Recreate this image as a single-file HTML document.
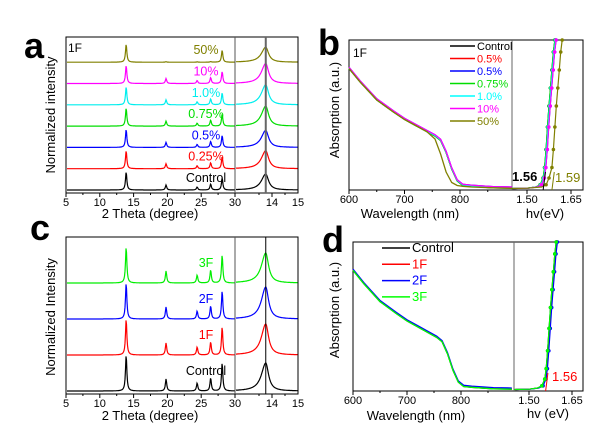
<!DOCTYPE html>
<html><head><meta charset="utf-8"><style>
html,body{margin:0;padding:0;background:#fff}
svg{display:block;font-family:"Liberation Sans",Arial,sans-serif}
</style></head><body>
<svg id="fig" width="600" height="428" viewBox="0 0 600 428" xmlns="http://www.w3.org/2000/svg"></svg>
<script>
// ---------- data ----------
const xrdPeakPos = [13.9, 19.8, 24.4, 26.4, 28.1];
const xrdPeakHeightA = [18, 5, 3, 6, 12];
const xrdPeakHeightC = [36, 12, 8, 13, 28];
const insetPeakPos = 13.76;
const aSeries = ["Control","0.25%","0.5%","0.75%","1.0%","10%","50%"];
const aColors = ["#000","#f00","#00f","#0d0","#0ee","#f0f","#808000"];
const aOffsets = [0, 1, 2, 3, 4, 5, 6];
const aInsetHeights = [16, 18, 17, 20, 20, 20, 15];
const cSeries = ["Control","1F","2F","3F"];
const cColors = ["#000","#f00","#00f","#0e0"];
const cOffsets = [0, 1, 2, 3];
const cInsetHeights = [28, 31, 32, 30];
const wl = [600,620,650,680,700,720,740,755,765,775,785,795,805,820,860,894];
const absControl = [0.81,0.72,0.60,0.52,0.47,0.43,0.39,0.36,0.33,0.25,0.14,0.06,0.03,0.025,0.015,0.012];
const abs50 = [0.81,0.72,0.60,0.52,0.47,0.43,0.39,0.34,0.24,0.12,0.05,0.03,0.025,0.02,0.015,0.012];
const hv = [1.45,1.50,1.53,1.545,1.555,1.56,1.565,1.57,1.575,1.58,1.585,1.59,1.595];
const tauc = [0.01,0.012,0.02,0.035,0.08,0.15,0.27,0.42,0.56,0.68,0.80,0.92,1.0];
const hv50 = [1.45,1.50,1.55,1.565,1.575,1.585,1.59,1.595,1.60,1.605,1.61,1.615,1.62];
const bSeries = ["Control","0.5%","0.5%","0.75%","1.0%","10%","50%"];
const bColors = ["#000","#f00","#00f","#0d0","#0ff","#f0f","#808000"];
const dSeries = ["Control","1F","2F","3F"];
const dColors = ["#000","#f00","#00f","#0f0"];

const S = document.getElementById('fig');
const NS = "http://www.w3.org/2000/svg";
function mk(tag, at, parent){const e=document.createElementNS(NS,tag);for(const k in at)e.setAttribute(k,at[k]);(parent||S).appendChild(e);return e;}
function txt(x,y,s,size,fill,anchor,extra){const t=mk('text',Object.assign({x:x,y:y,'font-size':size,fill:fill||'#000','text-anchor':anchor||'start'},extra||{}));t.textContent=s;return t;}

// ---------- XRD panels ----------
function xrdPanel(p){
  const L=66,R=298,D=235;
  const sx=v=>L+(v-5)/25*(D-L);
  const sxi=v=>272+(v-14)*26;
  const fr=mk('rect',{x:L,y:p.top,width:R-L,height:p.bot-p.top,fill:'none',stroke:'#000','stroke-width':1});
  
  const dv=mk('line',{x1:D,x2:D,y1:p.top,y2:p.bot,stroke:'#555','stroke-width':1});
  
  for(let v=5;v<=30;v+=2.5){const x=sx(v);mk('line',{x1:x,x2:x,y1:p.bot,y2:p.bot+(v%5===0?4:2),stroke:'#000'});
    if(v%5===0){const t=txt(x,p.bot+13,String(v),11,'#000','middle');}}
  [14].forEach(v=>{const x=sxi(v);mk('line',{x1:x,x2:x,y1:p.bot,y2:p.bot+4,stroke:'#000'});txt(x,p.bot+13,String(v),11,'#000','middle');});
  mk('line',{x1:sxi(13.5),x2:sxi(13.5),y1:p.bot,y2:p.bot+2,stroke:'#000'});
  mk('line',{x1:sxi(14.5),x2:sxi(14.5),y1:p.bot,y2:p.bot+2,stroke:'#000'});
  txt(298,p.bot+13,'15',11,'#000','middle');
  p.series.forEach((s,i)=>{
    const base=p.bot-3-p.offsets[i]*p.step;
    let d='';
    for(let x=L+1;x<D;x+=0.5){const v=5+(x-L)/(D-L)*25;let h=0;
      xrdPeakPos.forEach((pp,k)=>{const w=0.12;h+=p.heights[k]*(i===p.series.length-1&&p.fade&&k!==0&&k!==4?0.1:1)/(1+((v-pp)/w)**2);});
      d+=(d?'L':'M')+x.toFixed(1)+','+(base-h).toFixed(1);}
    const pa=mk('path',{d:d,fill:'none',stroke:p.colors[i],'stroke-width':1.2});
    
    let d2='';
    for(let x=D+1;x<R;x+=0.5){const v=14+(x-272)/26;const w=v<insetPeakPos?0.2:0.13;const h=p.ih[i]/(1+((v-insetPeakPos)/w)**2);
      d2+=(d2?'L':'M')+x.toFixed(1)+','+(base-h).toFixed(1);}
    const pb=mk('path',{d:d2,fill:'none',stroke:p.colors[i],'stroke-width':1.2});
    
    const t=txt(p.labelX,base-p.labelDy,s,12.5,p.colors[i],'middle');
    
  });
  const vl=mk('line',{x1:sxi(insetPeakPos),x2:sxi(insetPeakPos),y1:p.top,y2:p.bot,stroke:p.vlc,'stroke-width':p.vlw});
  
}
xrdPanel({name:'panel-a',top:37,bot:193,series:aSeries,colors:aColors,offsets:aOffsets,step:21.3,heights:xrdPeakHeightA,ih:aInsetHeights,labelX:206,labelDy:8,vlc:'#666',vlw:2,fade:true});
xrdPanel({name:'panel-c',top:237,bot:394,series:cSeries,colors:cColors,offsets:cOffsets,step:36,heights:xrdPeakHeightC,ih:cInsetHeights,labelX:206,labelDy:16,vlc:'#000',vlw:1});

// ---------- absorption panels ----------
function absPanel(p){
  const L=p.L,R=583,D=p.D;
  const sx=v=>L+(v-600)/100*p.nm100;
  const sy=v=>p.bot-v*(p.bot-p.top);
  const sh=v=>p.e150+(v-1.5)/0.15*(p.e165-p.e150);
  const fr=mk('rect',{x:L,y:p.top,width:R-L,height:p.bot-p.top,fill:'none',stroke:'#000'});
  
  const dv=mk('line',{x1:D,x2:D,y1:p.top,y2:p.bot,stroke:'#666'});
  
  for(let v=600;v<=850;v+=50){const x=sx(v);mk('line',{x1:x,x2:x,y1:p.bot,y2:p.bot+(v%100===0?4:2),stroke:'#000'});
    if(v%100===0){const t=txt(x,p.bot+13,String(v),11,'#000','middle');}}
  [1.5,1.65].forEach(v=>{const x=sh(v);mk('line',{x1:x,x2:x,y1:p.bot,y2:p.bot+4,stroke:'#000'});txt(x,p.bot+13,v.toFixed(2),11,'#000','middle');});
  p.colors.forEach((c,i)=>{
    const a=p.use50&&i===6?abs50:absControl;
    const dd=wl.map((w,k)=>(k?'L':'M')+sx(w).toFixed(1)+','+sy(a[k]+(i%3)*0.004).toFixed(1)).join('');
    const pa=mk('path',{d:dd,fill:'none',stroke:c,'stroke-width':1.3});
    
  });
  p.colors.forEach((c,i)=>{
    const hx=p.use50&&i===6?hv50:hv;
    const dd=hx.map((h,k)=>(k?'L':'M')+(sh(h)+(i%3)*0.6).toFixed(1)+','+sy(tauc[k]).toFixed(1)).join('');
    const pa=mk('path',{d:dd,fill:'none',stroke:c,'stroke-width':1.2});
    
    hx.forEach((h,k)=>{if(k>2){mk('circle',{cx:sh(h)+(i%3)*0.6,cy:sy(tauc[k]),r:1.8,fill:c});}});
  });
  p.fits.forEach(f=>{mk('line',{x1:sh(f.e),x2:sh(f.e+0.008),y1:p.bot,y2:p.bot-18,stroke:f.c,'stroke-width':1});});
  p.series.forEach((s,i)=>{const y=p.legY+i*p.legStep;
    mk('line',{x1:p.legX,x2:p.legX+p.legW,y1:y,y2:y,stroke:p.colors[i],'stroke-width':1.5});
    const t=txt(p.legX+p.legW+2,y+4,s,p.legFs,i===0?'#000':p.colors[i]);
    });
}
absPanel({name:'panel-b',L:349,D:512,top:40,bot:190,nm100:55.5,e150:527,e165:571,series:bSeries,colors:bColors,use50:true,
  fits:[{e:1.555,c:'#000'},{e:1.585,c:'#808000'}],legX:450,legY:46,legStep:12.5,legW:25,legFs:11});
absPanel({name:'panel-d',L:353,D:514,top:242,bot:391,nm100:54,e150:529,e165:572,series:dSeries,colors:dColors,use50:false,
  fits:[{e:1.558,c:'#f00'}],legX:382,legY:248,legStep:16.3,legW:28,legFs:13});

// ---------- static text ----------
const labels=[
 ['a',24,58,36,'panel-label-a'],['b',318,55,36,'panel-label-b'],['c',30,240,36,'panel-label-c'],['d',322,252,36,'panel-label-d']];
labels.forEach(l=>{const t=txt(l[1],l[2],l[0],l[3],'#000','start',{'font-weight':'bold'});});
function at(x,y,s,size,fill,anchor,name,extra){const t=txt(x,y,s,size,fill,anchor,extra);}
at(68,52,'1F',12,'#000','start','panel-a-tag');
at(353,57,'1F',12,'#000','start','panel-b-tag');
at(150,218,'2 Theta (degree)',13,'#000','middle','panel-a-x-title');
at(150,420,'2 Theta (degree)',13,'#000','middle','panel-c-x-title');
at(410,218,'Wavelength (nm)',13,'#000','middle','panel-b-x-title');
at(545,218,'hv(eV)',13,'#000','middle','panel-b-hv-title');
at(416,420,'Wavelength (nm)',13,'#000','middle','panel-d-x-title');
at(548,418,'hv (eV)',13,'#000','middle','panel-d-hv-title');
at(55,115,'Normalized intensity',13,'#000','middle','panel-a-y-title',{transform:'rotate(-90 55 115)'});
at(55,317,'Normalized Intensity',13,'#000','middle','panel-c-y-title',{transform:'rotate(-90 55 317)'});
at(339,110,'Absorption (a.u.)',13,'#000','middle','panel-b-y-title',{transform:'rotate(-90 339 110)'});
at(339,310,'Absorption (a.u.)',13,'#000','middle','panel-d-y-title',{transform:'rotate(-90 339 310)'});
at(512,181,'1.56',13,'#000','start','panel-b-gap-control',{'font-weight':'bold'});
at(555,182,'1.59',13,'#808000','start','panel-b-gap-50');
at(552,381,'1.56',13,'#f00','start','panel-d-gap');
</script>
</body></html>
